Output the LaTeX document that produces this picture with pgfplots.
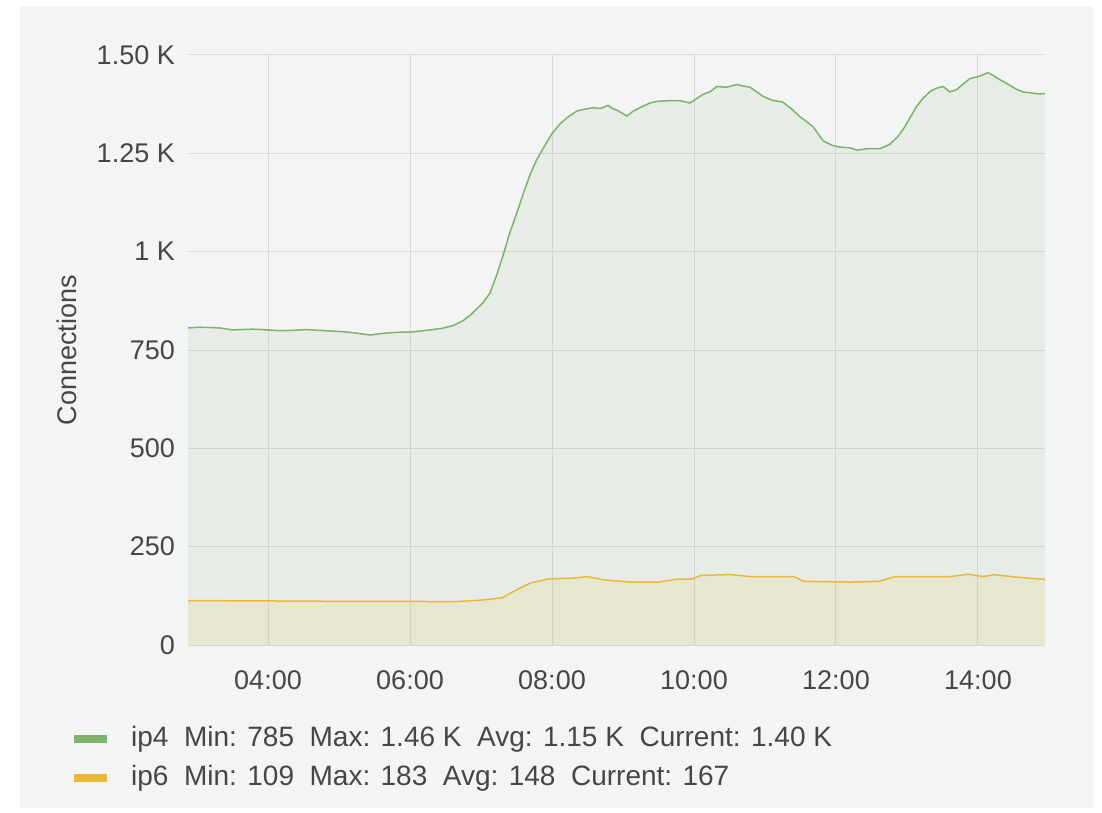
\documentclass[border=0pt]{standalone}
\usepackage{pgfplots}
\usepackage{pgfplotstable}
\pgfplotsset{compat=1.18}
\usepackage{fontspec}
\setmainfont{Liberation Sans}
\definecolor{panelbg}{HTML}{F3F4F4}
\definecolor{gridc}{HTML}{D9DADA}
\definecolor{txt}{HTML}{464646}
\definecolor{ipfour}{HTML}{7EB26D}
\definecolor{ipsix}{HTML}{EAB839}

\pgfplotstableread{
h v
2.873 806
3.042 808
3.200 807
3.324 806
3.500 801
3.789 803
4.000 801
4.169 799
4.350 800
4.549 802
4.800 799
5.014 797
5.200 794
5.437 788
5.600 792
5.817 795
6.042 796
6.282 801
6.450 805
6.606 812
6.750 825
6.845 838
7.028 870
7.127 895
7.220 940
7.310 990
7.400 1045
7.507 1100
7.600 1150
7.690 1195
7.780 1232
7.873 1262
8.000 1300
8.113 1325
8.230 1343
8.352 1358
8.460 1362
8.577 1366
8.680 1364
8.789 1372
8.860 1363
8.915 1360
9.056 1345
9.150 1358
9.282 1370
9.380 1378
9.479 1382
9.650 1384
9.803 1384
9.944 1378
10.127 1400
10.230 1407
10.324 1420
10.450 1418
10.606 1425
10.700 1421
10.789 1418
10.972 1395
11.100 1385
11.254 1380
11.380 1362
11.493 1343
11.590 1330
11.676 1318
11.817 1282
11.950 1270
12.056 1266
12.200 1264
12.296 1258
12.450 1262
12.620 1262
12.750 1272
12.859 1290
12.950 1312
13.042 1340
13.130 1368
13.225 1390
13.330 1408
13.423 1416
13.507 1420
13.606 1406
13.700 1412
13.789 1426
13.887 1440
14.000 1445
14.141 1455
14.230 1446
14.310 1437
14.430 1425
14.549 1412
14.640 1406
14.732 1404
14.850 1401
14.944 1402
}\ipfourdata

\pgfplotstableread{
h v
2.873 113
4.0 112
5.0 111
6.0 111
6.6 110
7.0 114
7.3 120
7.5 140
7.7 158
7.95 168
8.3 170
8.5 174
8.72 166
9.1 160
9.5 160
9.75 167
9.97 168
10.1 177
10.52 179
10.79 174
11.4 174
11.55 162
12.2 160
12.6 162
12.84 174
13.62 174
13.86 180
14.08 174
14.23 179
14.56 172
14.944 167
}\ipsixdata

\begin{document}
\begin{tikzpicture}
\fill[white] (0pt,0pt) rectangle (1102pt,812pt);
\fill[panelbg] (20pt,4pt) rectangle (1093pt,806pt);
\begin{axis}[
  at={(188pt,167pt)}, anchor=south west,
  scale only axis, width=857pt, height=590pt,
  xmin=2.873, xmax=14.944, ymin=0, ymax=1500,
  axis line style={draw=none},
  major tick length=0pt,
  grid=major,
  grid style={gridc, line width=1pt},
  xtick={4,6,8,10,12,14},
  xticklabels={04:00,06:00,08:00,10:00,12:00,14:00},
  ytick={0,250,500,750,1000,1250,1500},
  yticklabels={0,250,500,750,1 K,1.25 K,1.50 K},
  tick label style={font=\fontsize{27}{32}\selectfont, text=txt, inner sep=0pt},
  xticklabel style={anchor=center, yshift=-35pt},
  yticklabel style={anchor=east, xshift=-13pt},
  ylabel={Connections},
  ylabel style={at={(axis description cs:-0.141,0.5)}, anchor=center, font=\fontsize{27}{32}\selectfont, text=txt},
  legend style={at={(axis description cs:-0.1377,-0.137)}, anchor=north west,
    draw=none, fill=none, inner sep=0pt, row sep=13pt, column sep=20pt,
    font=\fontsize{28}{33}\selectfont, text=txt,
    nodes={inner sep=0pt, text height=20pt, text depth=6pt}},
  legend cell align=left,
]
\addplot[draw=none, fill=ipfour, fill opacity=0.1, forget plot] table[x=h,y=v]{\ipfourdata} \closedcycle;
\addplot[draw=none, fill=ipsix, fill opacity=0.12, forget plot] table[x=h,y=v]{\ipsixdata} \closedcycle;
\addplot[ipfour, line width=1.5pt, forget plot] table[x=h,y=v]{\ipfourdata};
\addplot[ipsix, line width=1.5pt, forget plot] table[x=h,y=v]{\ipsixdata};
\addlegendimage{legend image code/.code={\draw[ipfour, line width=8pt] (0pt,0pt) -- (33pt,0pt);}}
\addlegendentry{ip4\ \ Min: 785\ \ Max: 1.46 K\ \ Avg: 1.15 K\ \ Current: 1.40 K}
\addlegendimage{legend image code/.code={\draw[ipsix, line width=8pt] (0pt,0pt) -- (33pt,0pt);}}
\addlegendentry{ip6\ \ Min: 109\ \ Max: 183\ \ Avg: 148\ \ Current: 167}
\end{axis}
\end{tikzpicture}
\end{document}
